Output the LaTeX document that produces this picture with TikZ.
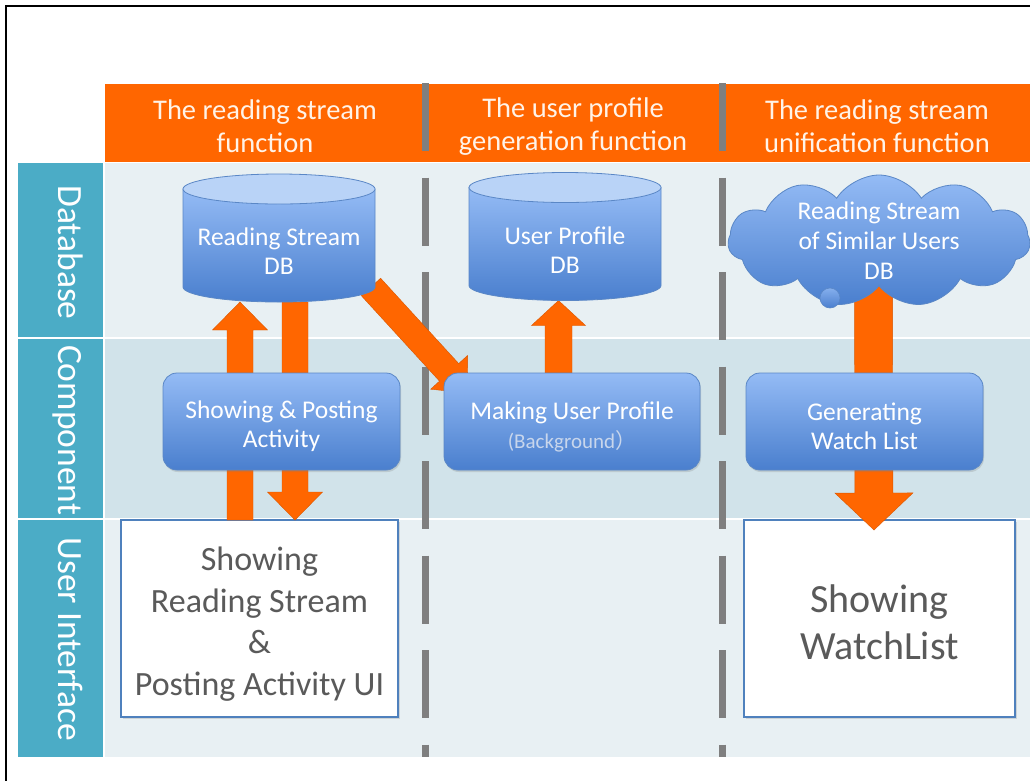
\documentclass[tikz,border=0pt]{standalone}
\usepackage{fontspec}
\setmainfont{Carlito}
\newfontfamily\cjkfont{Noto Sans CJK JP}
\usetikzlibrary{calc,shapes.symbols,shadows}

\definecolor{hdrorange}{HTML}{FF6600}
\definecolor{hdrtext}{HTML}{FFF3E8}
\definecolor{rowteal}{HTML}{4BACC6}
\definecolor{rowlight}{HTML}{E8F0F3}
\definecolor{rowmid}{HTML}{D1E3EA}
\definecolor{sepgrey}{HTML}{7F7F7F}
\definecolor{blueup}{HTML}{94BBF5}
\definecolor{bluedown}{HTML}{4A7FCE}
\definecolor{blueend}{HTML}{B9D3F7}
\definecolor{blueline}{HTML}{5A87C6}
\definecolor{uiline}{HTML}{4F81BD}
\definecolor{uitext}{HTML}{5A5A5A}
\definecolor{subtext}{HTML}{C8D6EC}

\pgfdeclarelayer{bg}
\pgfdeclarelayer{flows}
\pgfdeclarelayer{dbs}
\pgfsetlayers{bg,flows,dbs,main}

% strut on the first line pushes the text down a little
\newcommand\lowline[1]{\rule{0pt}{#1}}

\tikzset{
  hdr/.style={text=hdrtext, align=center, inner sep=0pt, font=\fontsize{28.5}{33}\selectfont},
  rowlbl/.style={text=white, rotate=-90, inner sep=0pt, text depth=0pt, font=\fontsize{35.5}{40}\selectfont},
  lanesep/.style={draw=sepgrey, line width=7pt, dash pattern=on 68pt off 26.5pt},
  dbtext/.style={minimum width=192pt, minimum height=113pt, inner sep=0pt, outer sep=0pt,
    text=white, align=center, font=\fontsize{25.5}{29}\selectfont},
  dbbody/.style={top color=blueup, bottom color=bluedown, draw=blueline, line width=0.8pt},
  dbend/.style={fill=blueend, draw=blueline, line width=0.8pt},
  compbox/.style={rounded corners=14pt, minimum width=237pt, minimum height=97pt, inner sep=0pt,
    outer sep=0pt, top color=blueup, bottom color=bluedown, draw=blueline, line width=0.8pt,
    text=white, align=center, font=\fontsize{25.5}{29}\selectfont,
    drop shadow={shadow xshift=1pt, shadow yshift=-2pt, opacity=0.25}},
  uibox/.style={fill=white, draw=uiline, line width=1.6pt, inner sep=0pt, outer sep=0pt,
    minimum height=197pt, text=uitext, align=center,
    drop shadow={shadow xshift=1.5pt, shadow yshift=-2pt, opacity=0.25}},
  cloudnode/.style={cloud, cloud puffs=11, cloud puff arc=115, aspect=2.3, minimum width=302pt,
    minimum height=132pt, inner xsep=-10pt, inner ysep=-20pt, top color=blueup, bottom color=bluedown,
    draw=blueline, line width=0.8pt, text=white, align=center, font=\fontsize{25.5}{30}\selectfont},
  bubble/.style={circle, minimum size=20pt, inner sep=0pt, top color=blueup!80!bluedown,
    bottom color=bluedown, draw=blueline, line width=0.6pt},
  flow/.style={fill=hdrorange, draw=hdrorange!85!black, line width=0.4pt, line join=miter},
}

% cylinder round a db node
\newcommand\dbcylinder[1]{%
  \path[dbbody] (#1.north west) -- ([yshift=15pt]#1.south west)
    arc[start angle=180, end angle=360, x radius=96pt, y radius=15pt]
    -- (#1.north east) -- cycle;
  \path[dbend] (#1.north) ellipse [x radius=96pt, y radius=15pt];
}

% block arrow: shaft half width, head half width, head length, from, to
\newcommand\blockarrow[5]{%
  \coordinate (ba-s) at (#4);
  \coordinate (ba-t) at (#5);
  \coordinate (ba-h) at ($(ba-t)!#3!(ba-s)$);
  \path[flow] ($(ba-s)!#1!90:(ba-t)$) -- ($(ba-h)!#1!90:(ba-t)$) -- ($(ba-h)!#2!90:(ba-t)$)
    -- (ba-t) -- ($(ba-h)!#2!-90:(ba-t)$) -- ($(ba-h)!#1!-90:(ba-t)$)
    -- ($(ba-s)!#1!-90:(ba-t)$) -- cycle;
}

\begin{document}
\begin{tikzpicture}[x=1pt, y=-1pt]
	\useasboundingbox (0,0) rectangle (1030,780);

	\begin{pgfonlayer}{bg}
		\fill[white] (0,0) rectangle (1030,780);
		\draw[line width=2pt] (6,6) rectangle (1050,800);
		% lanes
		\fill[hdrorange] (105,84) rectangle (1030,162);
		\fill[rowteal] (18,163) rectangle (103,337);
		\fill[rowteal] (18,339) rectangle (103,518);
		\fill[rowteal] (18,520) rectangle (103,757);
		\fill[rowlight] (105,163) rectangle (1030,337);
		\fill[rowmid] (105,339) rectangle (1030,518);
		\fill[rowlight] (105,520) rectangle (1030,757);
		\foreach \x in {425,722}{
			\draw[lanesep] (\x,83) -- (\x,757);
		}
		% user interface
		\node[uibox, minimum width=277pt, font=\fontsize{34}{41.5}\selectfont] (ui1) at (259.5,618.5)
			{\lowline{34.5pt}Showing\\Reading Stream\\\&\\Posting Activity UI};
		\node[uibox, minimum width=271pt, font=\fontsize{40}{47}\selectfont] (ui2) at (879.5,618.5)
			{\lowline{35pt}Showing\\WatchList};
	\end{pgfonlayer}

	\node[hdr] (h1) at (265,126.5) {The reading stream\\function};
	\node[hdr] (h2) at (573,126.5) {The user profile\\generation function};
	\node[hdr] (h3) at (877,126.5) {The reading stream\\unification function};

	\node[rowlbl] (rdb) at (70.5,252.5) {Database};
	\node[rowlbl] (rcomp) at (70.5,430) {Component};
	\node[rowlbl] (rui) at (70.5,639) {User Interface};

	% database
	\node[dbtext] (rsdb) at (279,245.5) {\lowline{29.5pt}Reading Stream\\DB};
	\node[dbtext] (updb) at (565,244) {\lowline{29.5pt}User Profile\\DB};
	\node[cloudnode] (simdb) at (879,241) {Reading Stream\\of Similar Users\\DB};
	\node[bubble] (bub) at (830,298) {};
	\begin{pgfonlayer}{dbs}
		\dbcylinder{rsdb}
		\dbcylinder{updb}
	\end{pgfonlayer}

	% components
	\node[compbox] (sap) at (281.5,421.5) {\lowline{27pt}Showing \& Posting\\Activity};
	\node[compbox, minimum width=256pt] (mup) at (572,421.5)
		{\lowline{29pt}Making User Profile\\{\fontsize{21}{24}\selectfont\color{subtext}(Background{\cjkfont ）}}};
	\node[compbox] (gwl) at (864.5,421.5) {\lowline{27pt}Generating\\Watch List};

	\begin{pgfonlayer}{flows}
		\blockarrow{13pt}{27.5pt}{28pt}{[xshift=-19.5pt]ui1.north}{[xshift=-39pt]rsdb.south}
		\blockarrow{13pt}{27.5pt}{28pt}{[xshift=16pt]rsdb.south}{[xshift=35.5pt]ui1.north}
		\blockarrow{13pt}{25pt}{28pt}{[xshift=-4pt,yshift=15pt]rsdb.south east}{[xshift=24pt,yshift=-20pt]mup.north west}
		\blockarrow{13.5pt}{27pt}{25pt}{[xshift=-13.5pt]mup.north}{[xshift=-6.5pt]updb.south}
		\blockarrow{19pt}{39pt}{37pt}{[xshift=-5.5pt,yshift=20pt]simdb.south}{[xshift=-5.5pt,yshift=-10pt]ui2.north}
	\end{pgfonlayer}
\end{tikzpicture}
\end{document}
